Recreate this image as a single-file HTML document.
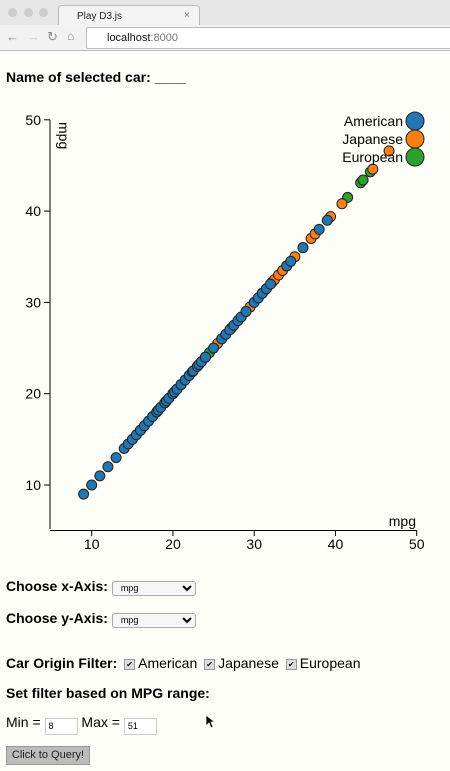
<!DOCTYPE html>
<html><head><meta charset="utf-8">
<style>
body{margin:0;width:450px;height:771px;overflow:hidden;background:#fefef8;font-family:"Liberation Sans",sans-serif;position:relative}
.abs{position:absolute}
.tabbar{left:0;top:0;width:450px;height:25px;background:#e6e6e6}
.tab{left:58px;top:5px;width:140px;height:22px;background:#f4f4f4;border:1px solid #bbb;border-bottom:none;border-radius:4px 4px 0 0;font-size:10px;color:#222}
.navbar{left:0;top:25px;width:450px;height:25px;background:#f2f2f2;border-bottom:1px solid #bbb}
.url{left:86px;top:2px;width:370px;height:20px;background:#fff;border:1px solid #bbb;border-radius:2px;font-size:11px;line-height:20px}
.dot{width:9px;height:9px;border-radius:50%;background:#ccc;top:8px}
b{font-weight:bold}
.lbl{font-size:14px;color:#000}
select{font-size:9px;height:15px;width:84px;border:1px solid #aaa;border-radius:3px;background:#f6f6f6;padding:0 0 0 4px}
.cb{display:inline-block;width:9px;height:9px;border:1px solid #999;background:#ddd;font-size:8px;line-height:9px;text-align:center;vertical-align:1px;margin:0 3px}
.inp{display:inline-block;width:28px;height:15px;border:1px solid #ccc;background:#fff;font-size:9px;line-height:15px;padding-left:3px;vertical-align:-2px}
</style></head><body>
<div class="abs tabbar">
 <div class="abs dot" style="left:8px"></div>
 <div class="abs dot" style="left:24px"></div>
 <div class="abs dot" style="left:39px"></div>
 <div class="abs tab"><span style="position:absolute;left:18px;top:5px">Play D3.js</span><span style="position:absolute;left:125px;top:4px;color:#777">×</span></div>
</div>
<div class="abs navbar">
 <span class="abs" style="left:6px;top:4px;color:#888;font-size:13px">←</span>
 <span class="abs" style="left:27px;top:4px;color:#ccc;font-size:13px">→</span>
 <span class="abs" style="left:47px;top:4px;color:#888;font-size:13px">↻</span>
 <span class="abs" style="left:67px;top:4px;color:#888;font-size:12px">⌂</span>
 <div class="abs url"><span style="margin-left:20px;color:#111">localhost</span><span style="color:#777">:8000</span></div>
</div>
<div class="abs lbl" style="left:6px;top:69px"><b>Name of selected car: ____</b></div>

<svg class="abs" style="left:0;top:0" width="450" height="771" id="chart"></svg>

<div class="abs lbl" style="left:6px;top:578px"><b>Choose x-Axis:</b> <select><option>mpg</option></select></div>
<div class="abs lbl" style="left:6px;top:610px"><b>Choose y-Axis:</b> <select><option>mpg</option></select></div>
<div class="abs lbl" style="left:6px;top:655px"><b>Car Origin Filter:</b> <span class="cb">✔</span>American <span class="cb">✔</span>Japanese <span class="cb">✔</span>European</div>
<div class="abs lbl" style="left:6px;top:685px"><b>Set filter based on MPG range:</b></div>
<div class="abs lbl" style="left:6px;top:714px">Min = <span class="inp">8</span> Max = <span class="inp">51</span></div>
<div class="abs" style="left:6px;top:746px;width:82px;height:17px;background:#bbb;border:1px solid #999;font-size:11px;line-height:17px;text-align:center;color:#222">Click to Query!</div>
<svg class="abs" style="left:205px;top:714px" width="10" height="16"><path d="M1 1 L1 12 L4 9 L6 14 L8 13 L6 8 L10 8 Z" fill="#000" stroke="#fff" stroke-width="0.8"/></svg>

<script>
const xTicks=[10,20,30,40,50];
const yTicks=[10,20,30,40,50];
const colors={American:"#1f77b4",Japanese:"#ff7f0e",European:"#2ca02c"};
const legendOrigins=["American","Japanese","European"];
const americanMpg=[9,10,11,12,13,14,14.5,15,15.5,16,16.5,17,17.5,18,18.2,18.5,19,19.2,19.5,20,20.2,20.5,21,21.5,22,22.4,22.5,23,23.2,23.5,24,25,26,26.5,27,27.5,28,28.4,29,30,30.5,31,31.5,32,34,34.5,36,38,39];
const japaneseMpg=[21,24,25.5,27.2,29.5,31.5,32.2,32.5,33,33.5,34,35,37,37.5,39.4,40.8,44.6,46.6];
const europeanMpg=[16,19,20,24.5,26,29,30.5,31,36,41.5,43.1,43.4,44.3];
const xScale=v=>91.7+(v-10)*8.125;
const yScale=v=>485-(v-10)*9.13;
const svg=document.getElementById('chart');
const NS="http://www.w3.org/2000/svg";
function mk(t,a){const e=document.createElementNS(NS,t);for(const k in a)e.setAttribute(k,a[k]);svg.appendChild(e);return e;}
let e=mk('line',{x1:50,y1:yScale(5.2),x2:50,y2:yScale(50),stroke:'#000'});


e=mk('line',{x1:50,y1:530.5,x2:xScale(50),y2:530.5,stroke:'#000'});


yTicks.forEach(v=>{
 let l=mk('line',{x1:44,x2:50,y1:yScale(v),y2:yScale(v),stroke:'#000'});
 
 
 let t=mk('text',{x:41,y:yScale(v)+5,'text-anchor':'end','font-size':14,'font-family':'Liberation Sans, sans-serif'});t.textContent=v;
 
 
});
xTicks.forEach(v=>{
 let l=mk('line',{x1:xScale(v),x2:xScale(v),y1:530.5,y2:536,stroke:'#000'});
 
 
 let t=mk('text',{x:xScale(v),y:549,'text-anchor':'middle','font-size':14,'font-family':'Liberation Sans, sans-serif'});t.textContent=v;
 
 
});
let t=mk('text',{x:416,y:526,'text-anchor':'end','font-size':14,'font-family':'Liberation Sans, sans-serif'});t.textContent='mpg';


t=mk('text',{x:0,y:0,transform:'translate(59,122) rotate(90)','font-size':14,'font-family':'Liberation Sans, sans-serif'});t.textContent='mpg';


function pts(arr,o){arr.forEach(v=>{
 let c=mk('circle',{cx:xScale(v),cy:yScale(v),r:5,fill:colors[o],stroke:'#222','stroke-width':1});
 
 
});}
pts(europeanMpg,'European');pts(japaneseMpg,'Japanese');pts(americanMpg,'American');
legendOrigins.forEach((o,i)=>{
 let c=mk('circle',{cx:415,cy:121+i*18,r:9,fill:colors[o],stroke:'#222'});
 
 
 let tx=mk('text',{x:403,y:126+i*18,'text-anchor':'end','font-size':14,'font-family':'Liberation Sans, sans-serif'});tx.textContent=o;
 
 
});
</script>
</body></html>
